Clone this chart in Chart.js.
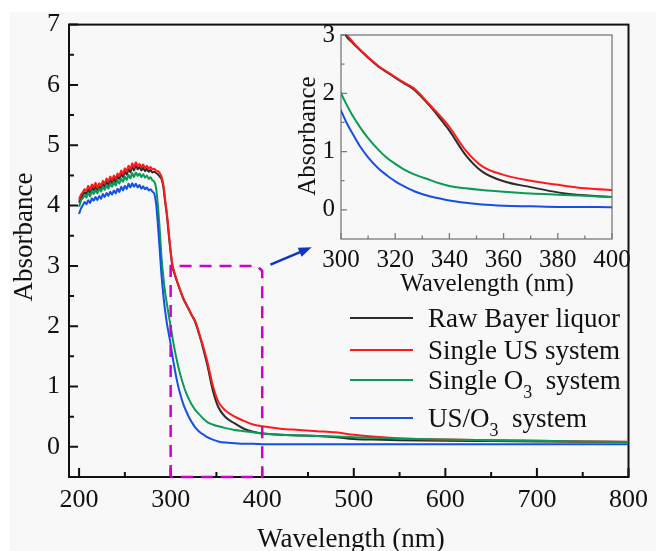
<!DOCTYPE html>
<html>
<head>
<meta charset="utf-8">
<script src="https://cdn.jsdelivr.net/npm/chart.js@4.4.0/dist/chart.umd.min.js"></script>
<style>
  body { margin: 0; background: #fff; }
  #wrap { position: relative; width: 656px; height: 551px; overflow: hidden; }
  #bg { position: absolute; left: 10px; top: 12px; right: 0; bottom: 0; background: #f8f8f8; }
  #main { position: absolute; left: 0; top: 0; }
  #inset { position: absolute; left: 290px; top: 14px; }
</style>
</head>
<body>
<div id="wrap">
  <div id="bg"></div>
  <canvas id="main" width="656" height="551"></canvas>
  <canvas id="inset" width="350" height="290"></canvas>
</div>
<script>
// wavelength grid (nm), shared by all four spectra
const wavelength = [
  200,202,204,206,208,210,212,214,216,218,220,222,224,226,228,230,232,234,236,238,240,
  242,244,246,248,250,252,254,256,258,260,262,264,266,268,270,272,274,276,278,280,282,284,
  286,288,290,292,294,296,298,300,302,304,307,310,314,317,320,323,327,333,336,340,346,352,360,370,380,390,400,
  420,440,460,480,500,520,550,600,650,700,750,800
];
const rawBayer = [
  4.05,4.13,4.17,4.22,4.19,4.28,4.21,4.30,4.25,4.33,4.24,4.32,4.28,4.36,4.31,4.40,4.34,4.43,4.37,4.45,4.39,
  4.48,4.44,4.53,4.47,4.57,4.51,4.61,4.55,4.65,4.58,4.67,4.60,4.64,4.58,4.63,4.57,4.61,4.56,4.59,4.55,4.56,4.54,
  4.52,4.48,4.44,4.31,4.06,3.82,3.51,3.22,2.98,2.88,2.74,2.61,2.45,2.36,2.27,2.18,2.06,1.77,1.60,1.36,0.94,0.66,0.49,0.39,0.30,0.25,0.22,
  0.20,0.19,0.18,0.16,0.13,0.12,0.11,0.10,0.095,0.09,0.085,0.08
];
const singleUS = [
  4.10,4.18,4.22,4.27,4.24,4.33,4.26,4.35,4.30,4.38,4.29,4.37,4.33,4.41,4.36,4.45,4.39,4.48,4.42,4.50,4.44,
  4.53,4.49,4.58,4.52,4.62,4.56,4.66,4.60,4.70,4.63,4.72,4.65,4.69,4.63,4.68,4.62,4.66,4.61,4.64,4.60,4.61,4.58,
  4.57,4.54,4.48,4.35,4.10,3.86,3.55,3.25,3.02,2.90,2.75,2.62,2.46,2.37,2.28,2.19,2.08,1.79,1.64,1.42,1.02,0.75,0.60,0.50,0.43,0.37,0.34,
  0.30,0.28,0.26,0.24,0.20,0.17,0.14,0.12,0.11,0.10,0.09,0.085
];
const singleO3 = [
  3.98,4.08,4.12,4.17,4.13,4.21,4.15,4.24,4.19,4.26,4.20,4.28,4.23,4.31,4.26,4.34,4.28,4.36,4.31,4.39,4.33,
  4.42,4.36,4.45,4.39,4.48,4.42,4.51,4.45,4.54,4.47,4.55,4.49,4.53,4.47,4.52,4.46,4.50,4.44,4.47,4.42,4.40,4.30,
  4.02,3.62,3.15,2.82,2.56,2.36,2.17,2.00,1.81,1.64,1.42,1.23,1.02,0.89,0.79,0.70,0.61,0.51,0.46,0.41,0.37,0.34,0.31,0.28,0.26,0.24,0.22,
  0.20,0.19,0.18,0.17,0.16,0.15,0.14,0.12,0.11,0.10,0.09,0.08
];
const usO3 = [
  3.86,3.95,4.00,4.06,4.02,4.09,4.04,4.12,4.08,4.14,4.09,4.16,4.11,4.19,4.14,4.21,4.16,4.23,4.18,4.25,4.20,
  4.28,4.22,4.31,4.25,4.33,4.27,4.36,4.30,4.37,4.31,4.36,4.30,4.34,4.28,4.32,4.27,4.30,4.25,4.27,4.23,4.20,4.05,
  3.70,3.28,2.85,2.52,2.25,2.04,1.87,1.70,1.50,1.33,1.09,0.90,0.70,0.59,0.49,0.41,0.32,0.23,0.20,0.16,0.12,0.09,0.07,0.06,0.05,0.05,0.045,
  0.045,0.045,0.045,0.045,0.045,0.045,0.045,0.045,0.045,0.045,0.045,0.045
];
const seriesNames = ['Raw Bayer liquor', 'Single US system', 'Single O₃  system', 'US/O₃  system'];

const xTicks = [200, 300, 400, 500, 600, 700, 800];
const xMinor = [250, 350, 450, 550, 650, 750];
const yTicks = [0, 1, 2, 3, 4, 5, 6, 7];
const yMinor = [0.5, 1.5, 2.5, 3.5, 4.5, 5.5, 6.5];
const insetXTicks = [300, 320, 340, 360, 380, 400];
const insetXMinor = [310, 330, 350, 370, 390];
const insetYTicks = [0, 1, 2, 3];
const insetYMinor = [0.5, 1.5, 2.5];

// dashed zoom box and arrow, in data units
const zoomBoxX = [300, 300, 394, 400, 400, 300];
const zoomBoxY = [-0.5, 3, 3, 2.92, -0.5, -0.5];
const arrowX = [409, 454];
const arrowY = [3.02, 3.31];

const serif = "'Liberation Serif', 'Times New Roman', serif";
const colours = ['#2b2b2b', '#ff1a1a', '#0a9a55', '#1450e6'];
const seriesValues = [rawBayer, singleUS, singleO3, usO3];

function makeDatasets() {
  return seriesValues.map((vals, i) => ({
    label: seriesNames[i],
    data: wavelength.map((w, k) => ({ x: w, y: vals[k] })),
    borderColor: colours[i],
    borderWidth: 2,
    pointRadius: 0,
    cubicInterpolationMode: 'monotone',
    order: 4 - i
  }));
}

function drawFrame(chart, o) {
  const { ctx, chartArea: a } = chart;
  const sx = chart.scales.x, sy = chart.scales.y;
  ctx.save();
  ctx.strokeStyle = o.color;
  ctx.lineWidth = o.width;
  ctx.strokeRect(a.left, a.top, a.right - a.left, a.bottom - a.top);
  ctx.beginPath();
  const xt = (vals, len) => vals.forEach(v => {
    const p = sx.getPixelForValue(v);
    ctx.moveTo(p, a.bottom); ctx.lineTo(p, a.bottom - len);
  });
  const yt = (vals, len) => vals.forEach(v => {
    const p = sy.getPixelForValue(v);
    ctx.moveTo(a.left, p); ctx.lineTo(a.left + len, p);
  });
  xt(o.xMajor, o.major); xt(o.xMinor, o.minor);
  yt(o.yMajor, o.major); yt(o.yMinor, o.minor);
  ctx.stroke();
  ctx.restore();
}

function drawText(ctx, text, x, y, size, rotate) {
  ctx.save();
  ctx.translate(x, y);
  if (rotate) ctx.rotate(-Math.PI / 2);
  ctx.font = size + 'px ' + serif;
  ctx.fillStyle = '#111';
  ctx.textAlign = 'center';
  ctx.textBaseline = 'alphabetic';
  ctx.fillText(text, 0, 0);
  ctx.restore();
}

const mainDecor = {
  id: 'mainDecor',
  beforeDatasetsDraw(chart) {
    drawFrame(chart, { color: '#111', width: 2, major: 9, minor: 5,
      xMajor: xTicks, xMinor: xMinor, yMajor: yTicks, yMinor: yMinor });
  },
  afterDatasetsDraw(chart) {
    const { ctx } = chart;
    const sx = chart.scales.x, sy = chart.scales.y;
    const x0 = sx.getPixelForValue(arrowX[0]), y0 = sy.getPixelForValue(arrowY[0]);
    const x1 = sx.getPixelForValue(arrowX[1]), y1 = sy.getPixelForValue(arrowY[1]);
    const ang = Math.atan2(y1 - y0, x1 - x0);
    ctx.save();
    ctx.strokeStyle = ctx.fillStyle = '#1034c8';
    ctx.lineWidth = 2.5;
    ctx.beginPath();
    ctx.moveTo(x0, y0);
    ctx.lineTo(x1 - 10 * Math.cos(ang), y1 - 10 * Math.sin(ang));
    ctx.stroke();
    ctx.beginPath();
    ctx.moveTo(x1, y1);
    ctx.lineTo(x1 - 13 * Math.cos(ang) + 5 * Math.sin(ang), y1 - 13 * Math.sin(ang) - 5 * Math.cos(ang));
    ctx.lineTo(x1 - 13 * Math.cos(ang) - 5 * Math.sin(ang), y1 - 13 * Math.sin(ang) + 5 * Math.cos(ang));
    ctx.closePath();
    ctx.fill();
    ctx.restore();
  },
  afterDraw(chart) {
    const { ctx } = chart;
    drawText(ctx, 'Absorbance', 32, 237, 27, true);
    drawText(ctx, 'Wavelength (nm)', 351, 547, 27, false);

    // legend
    const rows = [318, 350, 380, 418];
    ctx.save();
    seriesNames.forEach((name, i) => {
      const y = rows[i];
      ctx.strokeStyle = colours[i];
      ctx.lineWidth = 2;
      ctx.beginPath();
      ctx.moveTo(350, y); ctx.lineTo(413, y);
      ctx.stroke();
      ctx.fillStyle = '#111';
      ctx.textAlign = 'left';
      ctx.textBaseline = 'alphabetic';
      let x = 428;
      name.split('₃').forEach((part, k) => {
        if (k > 0) {
          ctx.font = '18px ' + serif;
          ctx.fillText('3', x, y + 18);
          x += ctx.measureText('3').width;
        }
        ctx.font = '27px ' + serif;
        ctx.fillText(part, x, y + 9);
        x += ctx.measureText(part).width;
      });
    });
    ctx.restore();
  }
};

const tickFont = size => ({ family: serif, size: size });

const mainChart = new Chart(document.getElementById('main'), {
  type: 'line',
  data: {
    datasets: makeDatasets().concat([{
      label: 'zoom',
      data: zoomBoxX.map((v, k) => ({ x: v, y: zoomBoxY[k] })),
      borderColor: '#cc00cc',
      borderWidth: 2.5,
      borderDash: [12, 8],
      pointRadius: 0,
      tension: 0,
      clip: false,
      order: 0
    }])
  },
  options: {
    responsive: false,
    animation: false,
    layout: { padding: { left: 0, top: 22, right: 23, bottom: 0 } },
    plugins: { legend: { display: false }, tooltip: { enabled: false } },
    scales: {
      x: {
        type: 'linear', min: 189, max: 800,
        afterBuildTicks: s => { s.ticks = xTicks.map(v => ({ value: v })); },
        afterFit: s => { s.height = 74; },
        grid: { display: false, drawTicks: false },
        border: { display: false },
        ticks: { font: tickFont(26), color: '#111', padding: 8, maxRotation: 0, autoSkip: false }
      },
      y: {
        min: -0.5, max: 7,
        afterBuildTicks: s => { s.ticks = yTicks.map(v => ({ value: v })); },
        afterFit: s => { s.width = 69; },
        grid: { display: false, drawTicks: false },
        border: { display: false },
        ticks: { font: tickFont(26), color: '#111', padding: 9 }
      }
    }
  },
  plugins: [mainDecor]
});

const insetDecor = {
  id: 'insetDecor',
  beforeDatasetsDraw(chart) {
    drawFrame(chart, { color: '#7a7a7a', width: 1.3, major: 6, minor: 3.5,
      xMajor: insetXTicks, xMinor: insetXMinor, yMajor: insetYTicks, yMinor: insetYMinor });
  },
  afterDraw(chart) {
    drawText(chart.ctx, 'Absorbance', 25, 122, 25, true);
    drawText(chart.ctx, 'Wavelength (nm)', 197, 277, 25, false);
  }
};

const insetChart = new Chart(document.getElementById('inset'), {
  type: 'line',
  data: { datasets: makeDatasets() },
  options: {
    responsive: false,
    animation: false,
    layout: { padding: { left: 0, top: 19, right: 28, bottom: 0 } },
    plugins: { legend: { display: false }, tooltip: { enabled: false } },
    scales: {
      x: {
        type: 'linear', min: 300, max: 400,
        afterBuildTicks: s => { s.ticks = insetXTicks.map(v => ({ value: v })); },
        afterFit: s => { s.height = 65; },
        grid: { display: false, drawTicks: false },
        border: { display: false },
        ticks: { font: tickFont(25), color: '#111', padding: 6, maxRotation: 0, autoSkip: false }
      },
      y: {
        min: -0.5, max: 3,
        afterBuildTicks: s => { s.ticks = insetYTicks.map(v => ({ value: v })); },
        afterFit: s => { s.width = 51; },
        grid: { display: false, drawTicks: false },
        border: { display: false },
        ticks: { font: tickFont(25), color: '#111', padding: 6 }
      }
    }
  },
  plugins: [insetDecor]
});
</script>
</body>
</html>
